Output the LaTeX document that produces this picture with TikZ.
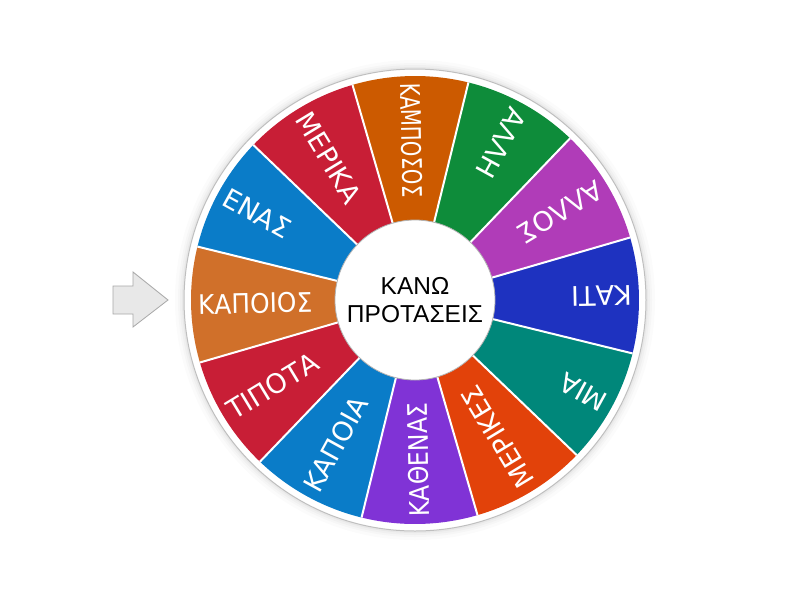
\documentclass[tikz,border=0pt]{standalone}
\usepackage{fontspec}
\usepackage{graphicx}
\newfontfamily\labfont{DejaVu Sans}
\newfontfamily\centerfont{Liberation Sans}
\definecolor{cKati}{HTML}{1E32C0}
\definecolor{cAllos}{HTML}{B03CB8}
\definecolor{cAlli}{HTML}{0E8C3A}
\definecolor{cKamp}{HTML}{CC5A00}
\definecolor{cRed}{HTML}{C81E36}
\definecolor{cBlue}{HTML}{0A7CC8}
\definecolor{cKapoios}{HTML}{D0702A}
\definecolor{cKath}{HTML}{8033D6}
\definecolor{cMerikes}{HTML}{E2420A}
\definecolor{cMia}{HTML}{00877A}
\definecolor{arrowfill}{HTML}{E8E8E8}
\definecolor{arrowline}{HTML}{A8A8A8}
\newcommand{\fitlab}[1]{\sbox0{#1}\ifdim\wd0>114pt\resizebox{114pt}{\height}{#1}\else#1\fi}
\begin{document}
\begin{tikzpicture}[x=1pt,y=1pt,
  seglabel/.style={text=white,inner sep=0pt,font=\labfont\fontsize{27}{27}\selectfont,anchor=west},
  sep/.style={white,line width=2pt},
  pointer/.style={fill=arrowfill,draw=arrowline,line width=0.8pt,line join=miter}]
\useasboundingbox (0,-600) rectangle (800,0);
\fill[white] (0,-600) rectangle (800,0);
\coordinate (c) at (415,-300);
% soft shadow
\foreach \r/\o in {240/0.015,237/0.02,235/0.025,233/0.03}
  \fill[black,opacity=\o] (c) circle (\r);
\fill[white] (c) circle (231);
\draw[black!25,line width=1pt] (c) circle (231);
\def\rot{1.2}
% segments
\foreach \a/\col in {0/cKati,30/cAllos,60/cAlli,90/cKamp,120/cRed,150/cBlue,180/cKapoios,210/cRed,240/cBlue,270/cKath,300/cMerikes,330/cMia}
  \fill[\col] (c) -- ([shift={(\a-15+\rot:224)}]c) arc[start angle=\a-15+\rot,end angle=\a+15+\rot,radius=224] -- cycle;
\foreach \a in {0,30,...,330}
  \draw[sep] (c) -- ([shift={(\a+15+\rot:224)}]c);
% labels
\foreach \a/\txt/\n in {0/ΚΑΤΙ/kati,30/ΑΛΛΟΣ/allos,60/ΑΛΛΗ/alli,90/ΚΑΜΠΟΣΟΣ/kamposos,120/ΜΕΡΙΚΑ/merika,150/ΕΝΑΣ/enas,180/ΚΑΠΟΙΟΣ/kapoios,210/ΤΙΠΟΤΑ/tipota,240/ΚΑΠΟΙΑ/kapoia,270/ΚΑΘΕΝΑΣ/kathenas,300/ΜΕΡΙΚΕΣ/merikes,330/ΜΙΑ/mia}
  \node[seglabel,rotate=\a+180+\rot] (\n) at ([shift={(\a+\rot:217)}]c) {\fitlab{\txt}};
% hub
\fill[white] (c) circle (80);
\draw[black!30,line width=0.8pt] (c) circle (80);
\node[inner sep=0pt,align=center,font=\centerfont\fontsize{24.5}{28}\selectfont] (hub) at (c) {ΚΑΝΩ\\ΠΡΟΤΑΣΕΙΣ};
% pointer
\draw[pointer] (113,-286) coordinate (p1) -- (133,-286) -- (133,-272) -- (168,-300) coordinate (tip) -- (133,-327) -- (133,-314) -- (113,-314) -- cycle;
\end{tikzpicture}
\end{document}
